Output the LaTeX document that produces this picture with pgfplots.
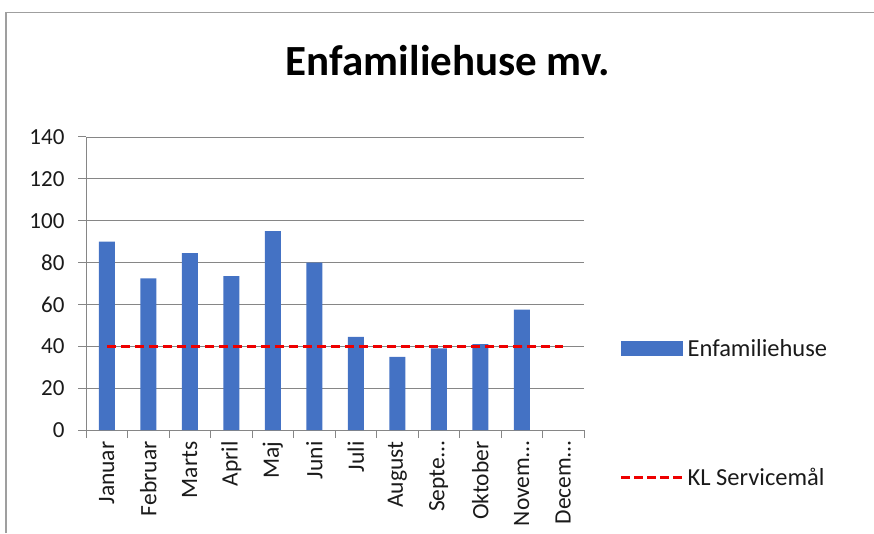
\documentclass[border=0pt]{standalone}
\usepackage{pgfplots}
\pgfplotsset{compat=1.18}
\usepackage{fontspec}
\setmainfont{Carlito}
\definecolor{barblue}{HTML}{4472C4}
\definecolor{gridgray}{HTML}{868686}
\definecolor{klred}{HTML}{EE0000}
\definecolor{txt}{HTML}{1A1A1A}
\begin{document}
\begin{tikzpicture}[x=1pt,y=1pt]
\useasboundingbox (0,0) rectangle (874,533);
\draw[gray!75, line width=1.5pt] (6,0) -- (6,520.5) -- (874,520.5);
\node[font=\bfseries\fontsize{43}{50}\selectfont, text=black] at (448,472) {Enfamiliehuse mv.};
\begin{axis}[
  at={(86pt,103pt)}, anchor=south west,
  width=498pt, height=293pt, scale only axis,
  xmin=-0.5, xmax=11.5, ymin=0, ymax=140,
  ytick={0,20,...,140},
  ymajorgrids, grid style={gridgray, line width=0.9pt},
  axis x line*=bottom, axis y line*=left,
  axis line style={gridgray, line width=1pt},
  tick style={gridgray, line width=1pt},
  tick align=outside, major tick length=8pt,
  xtick={-0.5,0.5,1.5,2.5,3.5,4.5,5.5,6.5,7.5,8.5,9.5,10.5,11.5},
  x tick label as interval,
  xticklabels={Januar,Februar,Marts,April,Maj,Juni,Juli,August,Septe\ldots,Oktober,Novem\ldots,Decem\ldots},
  xticklabel style={rotate=90, anchor=east, font=\fontsize{23.5}{27}\selectfont, text=txt},
  yticklabel style={font=\fontsize{23}{27}\selectfont, text=txt, xshift=-10pt},
  /pgf/number format/assume math mode=true,
  legend style={at={(1.065,0.058)}, anchor=west, draw=none, fill=none, row sep=106pt,
    font=\fontsize{24.5}{28}\selectfont, text=txt},
  legend cell align=left,
]
\addplot[ybar, fill=barblue, draw=none, bar width=16pt,
  legend image code/.code={\fill[barblue] (0pt,-7.5pt) rectangle (62pt,7.5pt);}]
  coordinates {(0,90) (1,72.5) (2,84.5) (3,73.5) (4,95) (5,80) (6,44.5) (7,35) (8,39) (9,41) (10,57.5)};
\addlegendentry{Enfamiliehuse}
\addplot[klred, line width=3pt, dash pattern=on 9pt off 5pt,
  legend image code/.code={\draw[klred, line width=3pt, dash pattern=on 9pt off 4pt] (0pt,0pt) -- (63pt,0pt);}]
  coordinates {(0,40) (1,40) (2,40) (3,40) (4,40) (5,40) (6,40) (7,40) (8,40) (9,40) (10,40) (11,40)};
\addlegendentry{KL Servicemål}
\end{axis}
\end{tikzpicture}
\end{document}
